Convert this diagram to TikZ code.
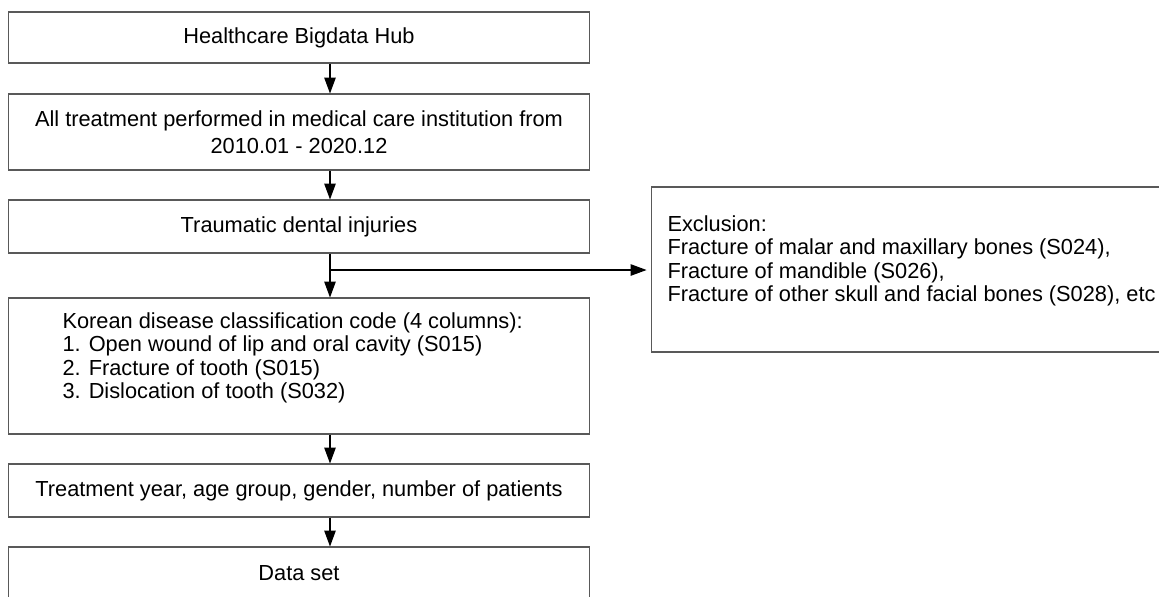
\documentclass[tikz,border=0pt]{standalone}
\usepackage{fontspec}
\setmainfont{Liberation Sans}
\usetikzlibrary{arrows.meta}

\begin{document}
\begin{tikzpicture}[x=0.02cm,y=-0.02cm,line width=0.6pt,
            every node/.style={inner sep=0pt,font=\fontsize{12.4}{13.3}\selectfont},
            box/.style={draw=black!65,minimum width=11.64cm,align=center},
            >={Triangle[length=9pt,width=6.5pt]}]
            \useasboundingbox(0,0)rectangle(1159,596);
            \node[box,minimum height=1.02cm](hub)at(299,37.5){Healthcare Bigdata Hub};
            \node[box,minimum height=1.52cm](all)at(299,132)
              {All treatment performed in medical care institution from\\[0.08cm]2010.01 - 2020.12};
            \node[box,minimum height=1.06cm](tdi)at(299,226.5){Traumatic dental injuries};
            \node[box,minimum height=2.72cm](kdc)at(299,366){};
            \node[anchor=west,align=left](kdctxt)at(62,358){Korean disease classification code (4 columns):\\
              1. Open wound of lip and oral cavity (S015)\\2. Fracture of tooth (S015)\\
              3. Dislocation of tooth (S032)};
            \node[box,minimum height=1.06cm](tya)at(299,490.5){Treatment year, age group, gender, number of patients};
            \node[box,minimum height=1.06cm](ds)at(299,573.5){Data set};
            \node[box,minimum width=11cm,minimum height=3.3cm](excl)at(926,269.5){};
            \node[anchor=west,align=left](excltxt)at(667,261){Exclusion:\\
              Fracture of malar and maxillary bones (S024),\\Fracture of mandible (S026),\\
              Fracture of other skull and facial bones (S028), etc};
            \coordinate(ax)at(330,0);
            \coordinate(br)at(330,270);
            \draw[->](hub.south-|ax)--(all.north-|ax);
            \draw[->](all.south-|ax)--(tdi.north-|ax);
            \draw[->](tdi.south-|ax)--(kdc.north-|ax);
            \draw[->,shorten >=0.08cm](br)--(excl.west|-br);
            \draw[->](kdc.south-|ax)--(tya.north-|ax);
            \draw[->](tya.south-|ax)--(ds.north-|ax);
        \end{tikzpicture}
\end{document}
